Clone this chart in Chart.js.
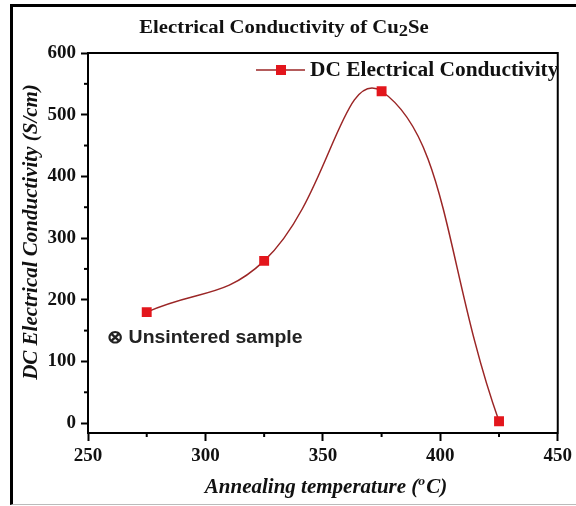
<!DOCTYPE html>
<html>
<head>
<meta charset="utf-8">
<script src="https://cdn.jsdelivr.net/npm/chart.js@4"></script>
<style>
  body { margin: 0; background: #fff; }
  #marco { position: relative; width: 576px; height: 506px; overflow: hidden; }
  #borde { position: absolute; left: 10px; top: 4px; width: 600px; height: 497px;
           border-left: 3px solid #000; border-top: 3px solid #000; border-bottom: 1px solid #bbb; }
  canvas { position: absolute; left: 0; top: 0; }
</style>
</head>
<body>
<div id="marco">
  <div id="borde"></div>
  <canvas id="graficoConductividad" width="576" height="506"></canvas>
</div>
<script>
  // datos
  var temperaturas = [275, 325, 375, 425];
  var conductividad = [180, 263, 538, 3];
  var ticksX = [250, 275, 300, 325, 350, 375, 400, 425, 450];
  var ticksY = [0, 50, 100, 150, 200, 250, 300, 350, 400, 450, 500, 550, 600];
  var etiquetaSerie = "DC Electrical Conductivity";

  var SERIF = '"Liberation Serif", "Times New Roman", serif';
  var colorLinea = "#9b2626";
  var colorMarca = "#e3161c";

  function esMayorX(v) { return v % 50 === 0; }
  function esMayorY(v) { return v % 100 === 0; }

  // texto estirado en horizontal (la figura original esta algo ensanchada)
  function textoAncho(ctx, txt, x, y, k) {
    ctx.save();
    ctx.translate(x, y);
    ctx.scale(k, 1);
    ctx.fillText(txt, 0, 0);
    ctx.restore();
    return ctx.measureText(txt).width * k;
  }

  var decoracion = {
    id: "decoracion",
    afterDraw: function (chart) {
      var ctx = chart.ctx;
      var area = chart.chartArea;
      var sx = chart.scales.x;
      var sy = chart.scales.y;
      ctx.save();

      // marco superior y derecho
      ctx.strokeStyle = "#000";
      ctx.lineWidth = 2;
      ctx.beginPath();
      ctx.moveTo(area.left - 1, area.top);
      ctx.lineTo(area.right, area.top);
      ctx.lineTo(area.right, area.bottom + 1);
      ctx.stroke();

      // ticks menores
      ticksX.forEach(function (v) {
        if (!esMayorX(v)) {
          var px = sx.getPixelForValue(v);
          ctx.beginPath();
          ctx.moveTo(px, area.bottom);
          ctx.lineTo(px, area.bottom + 4);
          ctx.stroke();
        }
      });
      ticksY.forEach(function (v) {
        if (!esMayorY(v)) {
          var py = sy.getPixelForValue(v);
          ctx.beginPath();
          ctx.moveTo(area.left, py);
          ctx.lineTo(area.left - 4, py);
          ctx.stroke();
        }
      });

      ctx.fillStyle = "#111";
      ctx.textBaseline = "middle";
      ctx.textAlign = "left";

      // titulo con subindice
      var k = 1.09;
      ctx.font = "bold 19px " + SERIF;
      var t1 = "Electrical Conductivity of Cu";
      var w1 = ctx.measureText(t1).width * k;
      var w3 = ctx.measureText("Se").width * k;
      ctx.font = "bold 17px " + SERIF;
      var w2 = ctx.measureText("2").width * k;
      var x0 = 284 - (w1 + w2 + w3) / 2;
      ctx.font = "bold 19px " + SERIF;
      textoAncho(ctx, t1, x0, 28, k);
      ctx.font = "bold 17px " + SERIF;
      textoAncho(ctx, "2", x0 + w1, 32, k);
      ctx.font = "bold 19px " + SERIF;
      textoAncho(ctx, "Se", x0 + w1 + w2, 28, k);

      // titulo eje Y
      ctx.save();
      ctx.translate(32, 232);
      ctx.rotate(-Math.PI / 2);
      ctx.textAlign = "center";
      ctx.font = "italic bold 21px " + SERIF;
      ctx.fillText("DC Electrical Conductivity (S/cm)", 0, 0);
      ctx.restore();

      // titulo eje X con superindice
      var kx = 1.05;
      ctx.font = "italic bold 20px " + SERIF;
      var a1 = "Annealing temperature (";
      var a3 = "C)";
      var wa1 = ctx.measureText(a1).width * kx;
      var wa3 = ctx.measureText(a3).width * kx;
      ctx.font = "italic bold 13px " + SERIF;
      var wa2 = ctx.measureText("o").width * kx + 1;
      var xa = 326 - (wa1 + wa2 + wa3) / 2;
      ctx.font = "italic bold 20px " + SERIF;
      textoAncho(ctx, a1, xa, 488, kx);
      ctx.font = "italic bold 13px " + SERIF;
      textoAncho(ctx, "o", xa + wa1, 482, kx);
      ctx.font = "italic bold 20px " + SERIF;
      textoAncho(ctx, a3, xa + wa1 + wa2, 488, kx);

      // leyenda dentro del area
      var ly = 70;
      ctx.strokeStyle = colorLinea;
      ctx.lineWidth = 1.5;
      ctx.beginPath();
      ctx.moveTo(256, ly);
      ctx.lineTo(305, ly);
      ctx.stroke();
      ctx.fillStyle = colorMarca;
      ctx.fillRect(276, ly - 5, 10, 10);
      ctx.fillStyle = "#111";
      ctx.font = "bold 20px " + SERIF;
      textoAncho(ctx, chart.data.datasets[0].label, 310, ly + 1, 1.07);

      // nota de muestra sin sinterizar
      ctx.font = 'bold 18px "Liberation Sans", Arial, sans-serif';
      ctx.fillStyle = "#222";
      textoAncho(ctx, "\u2297 Unsintered sample", 107, 338, 1.08);

      ctx.restore();
    }
  };

  var ctxC = document.getElementById("graficoConductividad");
  new Chart(ctxC, {
    type: "line",
    data: {
      datasets: [{
        label: etiquetaSerie,
        data: temperaturas.map(function (t, i) { return { x: t, y: conductividad[i] }; }),
        borderColor: colorLinea,
        borderWidth: 1.5,
        tension: 0.45,
        pointStyle: "rect",
        pointRadius: 7,
        pointBackgroundColor: colorMarca,
        pointBorderColor: colorMarca,
        pointBorderWidth: 0
      }]
    },
    options: {
      responsive: false,
      animation: false,
      devicePixelRatio: 1,
      layout: { padding: { left: 0, top: 53, right: 15, bottom: 0 } },
      plugins: {
        legend: { display: false },
        title: { display: false },
        tooltip: { enabled: false }
      },
      scales: {
        x: {
          type: "linear",
          min: 250,
          max: 450,
          afterBuildTicks: function (scale) {
            scale.ticks = ticksX.map(function (v) { return { value: v }; });
          },
          afterFit: function (scale) { scale.height = 73; },
          border: { color: "#000", width: 2 },
          grid: {
            drawOnChartArea: false,
            drawTicks: true,
            tickLength: 8,
            tickWidth: 2,
            tickColor: function (c) { return esMayorX(c.tick.value) ? "#000" : "rgba(0,0,0,0)"; }
          },
          ticks: {
            autoSkip: false,
            maxRotation: 0,
            padding: 4,
            color: "#111",
            font: { family: SERIF, size: 19, weight: "bold" },
            callback: function (v) { return esMayorX(v) ? v : ""; }
          }
        },
        y: {
          min: -16,
          max: 600,
          afterBuildTicks: function (scale) {
            scale.ticks = ticksY.map(function (v) { return { value: v }; });
          },
          afterFit: function (scale) { scale.width = 88; },
          border: { color: "#000", width: 2 },
          grid: {
            drawOnChartArea: false,
            drawTicks: true,
            tickLength: 7,
            tickWidth: 2,
            tickColor: function (c) { return esMayorY(c.tick.value) ? "#000" : "rgba(0,0,0,0)"; }
          },
          ticks: {
            autoSkip: false,
            padding: 5,
            color: "#111",
            font: { family: SERIF, size: 19, weight: "bold" },
            callback: function (v) { return esMayorY(v) ? v : ""; }
          }
        }
      }
    },
    plugins: [decoracion]
  });
</script>
</body>
</html>
